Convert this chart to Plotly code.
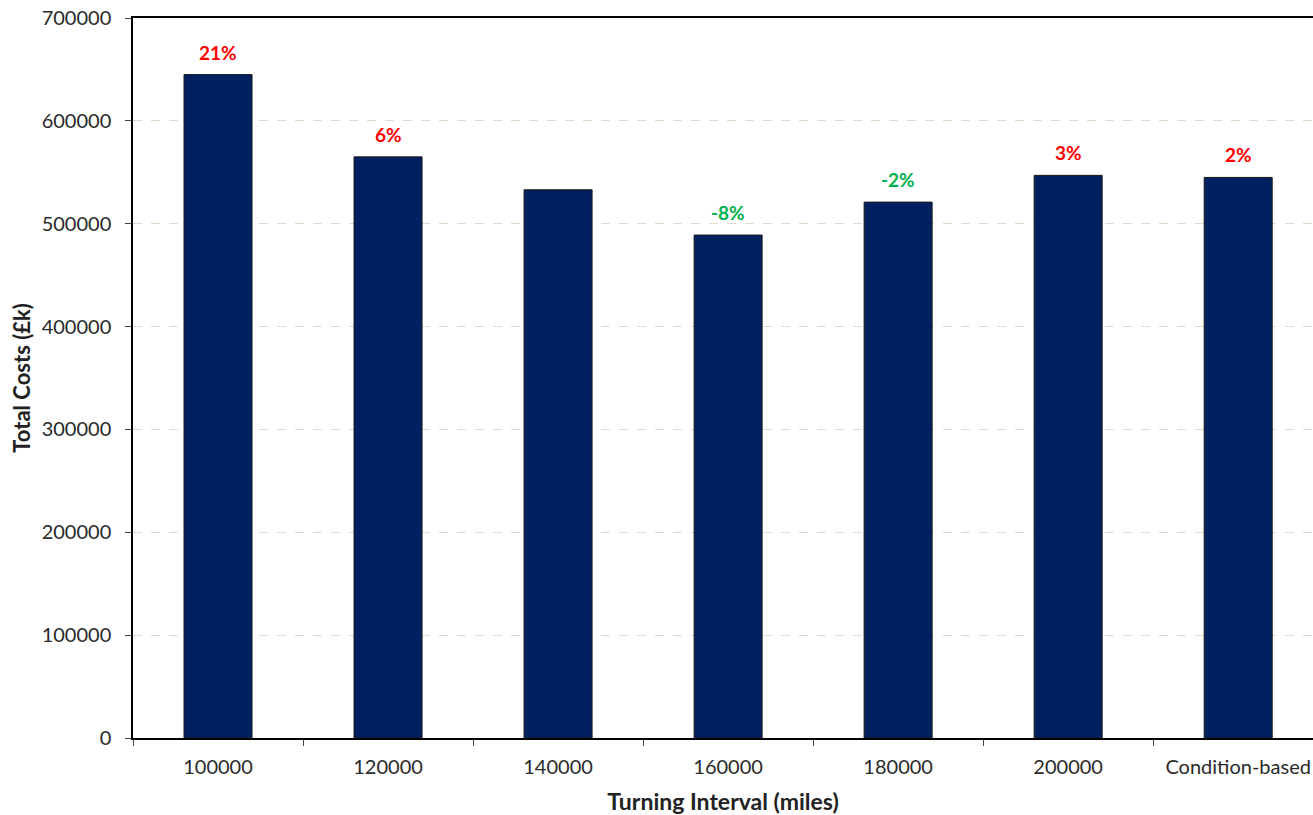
import plotly.graph_objects as go

# Turning intervals and total lifetime costs (£k)
intervals = ["100000", "120000", "140000", "160000", "180000", "200000", "Condition-based"]
total_costs = [645000, 565000, 533000, 489000, 521000, 547000, 545000]
change_labels = ["21%", "6%", "", "-8%", "-2%", "3%", "2%"]
change_colors = ["#ff0000", "#ff0000", "#ff0000", "#00b050", "#00b050", "#ff0000", "#ff0000"]

y_ticks = [0, 100000, 200000, 300000, 400000, 500000, 600000, 700000]

FONT = "Lato, 'Open Sans', sans-serif"

fig = go.Figure()
fig.add_trace(go.Bar(
    x=intervals,
    y=total_costs,
    width=0.4,
    marker=dict(color="#002060", line=dict(color="#1a1a1a", width=1)),
    hoverinfo="x+y",
))

# percentage change labels, placed by category index above each bar
for idx, (val, lab, col) in enumerate(zip(total_costs, change_labels, change_colors)):
    if lab:
        fig.add_annotation(
            x=idx, y=val, xref="x", yref="y", text=f"<b>{lab}</b>", showarrow=False,
            yanchor="bottom", yshift=9,
            font=dict(family=FONT, size=19, color=col),
        )

fig.update_layout(
    width=1313, height=815,
    margin=dict(l=133, r=0, t=18, b=77),
    plot_bgcolor="white", paper_bgcolor="white",
    showlegend=False,
    font=dict(family=FONT, size=20, color="#222222"),
    bargap=0.6,
)
fig.update_xaxes(
    type="category",
    range=[-0.5, 6.44],
    showline=True, linecolor="black", linewidth=1.5, mirror=True,
    ticks="outside", tickson="boundaries", ticklen=6, tickcolor="#444",
    ticklabelstandoff=10,
    showgrid=False,
    automargin=False,
    tickfont=dict(family=FONT, size=20, color="#2a2a2a"),
    title=dict(text="<b>Turning Interval (miles)</b>", font=dict(family=FONT, size=23, color="#222"), standoff=17),
)
fig.update_yaxes(
    range=[0, 700000],
    tickvals=y_ticks,
    ticktext=[str(v) for v in y_ticks],
    showline=True, linecolor="black", linewidth=1.5,
    ticks="outside", ticklen=6, tickcolor="#444",
    ticklabelstandoff=10,
    showgrid=True, gridcolor="#dcdccc", griddash="dash", gridwidth=1,
    zeroline=False,
    automargin=False,
    tickfont=dict(family=FONT, size=20, color="#2a2a2a"),
    title=dict(text="<b>Total Costs (£k)</b>", font=dict(family=FONT, size=22, color="#222"), standoff=5),
)

fig.write_html("out.html")
